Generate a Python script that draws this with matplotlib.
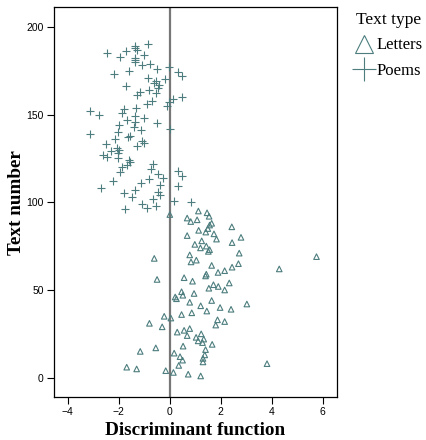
import numpy as np
import matplotlib.pyplot as plt
from matplotlib.lines import Line2D

# letters: text numbers 1..95
letters_num = list(range(1, 96))
letters_x = [1.21, 0.72, 0.14, -0.16, -1.30, -1.69, 0.35, 3.81, 1.30, 0.50,
             1.30, 0.40, 1.37, 0.17, -1.16, 1.40, -0.55, 0.52, 1.66, 1.28,
             1.11, 1.33, 1.03, 0.68, 1.23, 0.29, 0.56, 0.78, -0.30, 1.80,
             -0.80, 2.15, 1.87, 0.04, -0.22, 0.46, 0.86, 1.45, 2.40, 1.97,
             1.21, 3.02, 0.78, 1.64, 0.26, 0.21, 0.51, 0.95, 0.46, 2.15,
             1.53, 1.90, 1.71, 2.33, 0.89, -0.50, 0.56, 1.40, 1.43, 1.89,
             2.15, 4.29, 2.44, 1.64, 2.69, 0.83, 1.04, -0.61, 5.75, 0.78,
             2.72, 1.51, 1.56, 1.20, 1.43, 0.98, 2.44, 1.25, 1.83, 2.79,
             0.68, 1.73, 1.41, 1.13, 1.49, 2.43, 1.56, 1.64, 0.82, 1.07,
             0.68, 1.54, 0.00, 1.46, 1.12]

# poems: text numbers 96..190
poems_num = list(range(96, 191))
poems_x = [-1.75, -0.91, -0.55, -1.11, 0.83, 0.16, -0.65, -1.50, -0.38, -1.79,
           -0.47, -1.37, -2.70, 0.34, -0.39, -1.13, -2.24, -0.82, -0.27, 0.47,
           -0.47, -1.94, 0.33, -0.72, -1.86, -1.67, -0.64, -1.56, -1.59, -2.05,
           -2.48, -2.61, -2.02, -2.31, -1.98, -2.09, -1.30, -2.49, -1.00, -1.10,
           -2.16, -1.62, -1.56, -3.12, -2.02, -1.13, 0.00, -1.40, -1.99, -0.52,
           -1.36, -1.68, -1.00, -1.37, -2.76, -1.88, -3.14, -1.81, -1.33, -0.10,
           -0.90, -0.03, -0.70, 0.12, 0.46, -1.30, -0.53, -1.16, -0.80, -0.47,
           -1.72, -0.44, -0.63, -0.55, -0.20, -0.86, 0.46, -2.19, 0.33, -1.59,
           -0.51, -0.03, -1.11, -0.78, -1.37, -1.38, -1.38, -1.94, -1.02, -2.48,
           -1.72, -1.30, -1.38, -1.36, -0.85]

teal = '#4d7d7e'

fig = plt.figure(figsize=(4.27, 4.40), dpi=100)
ax = fig.add_axes([0.1265, 0.0977, 0.6625, 0.886])

ax.axvline(0, color='#777777', lw=1.6, zorder=1)
ax.scatter(letters_x, letters_num, marker='^', s=16, facecolors='none',
           edgecolors=teal, linewidths=0.8, zorder=2)
ax.scatter(poems_x, poems_num, marker='+', s=30, color=teal,
           linewidths=0.8, zorder=2)

ax.set_xlim(-4.54, 6.55)
ax.set_ylim(-11, 211.2)
ax.set_xticks([-4, -2, 0, 2, 4, 6])
ax.set_yticks([0, 50, 100, 150, 200])
ax.tick_params(direction='out', length=5, width=0.8, labelsize=7.5,
               top=False, right=False, pad=2.5)
for lab in ax.get_xticklabels() + ax.get_yticklabels():
    lab.set_fontfamily('Liberation Sans')
for sp in ax.spines.values():
    sp.set_linewidth(0.9)

ax.set_xlabel('Discriminant function', family='Liberation Serif',
              fontweight='bold', fontsize=13.8, labelpad=3)
ax.set_ylabel('Text number', family='Liberation Serif',
              fontweight='bold', fontsize=13.8, labelpad=1)

handles = [
    Line2D([], [], marker='^', ls='none', markersize=13, markerfacecolor='none',
           markeredgecolor=teal, markeredgewidth=0.8, label='Letters'),
    Line2D([], [], marker='+', ls='none', markersize=17, color=teal,
           markeredgewidth=0.8, label='Poems'),
]
leg = fig.legend(handles=handles, title='Text type', loc='upper left',
                 bbox_to_anchor=(0.83, 0.972), frameon=False,
                 prop={'family': 'Liberation Serif', 'size': 12},
                 handletextpad=0.15, handlelength=1.2, labelspacing=0.55,
                 borderaxespad=0, borderpad=0)
leg.get_title().set_fontfamily('Liberation Serif')
leg.get_title().set_fontsize(12.5)

fig.savefig('out.png', dpi=100)
